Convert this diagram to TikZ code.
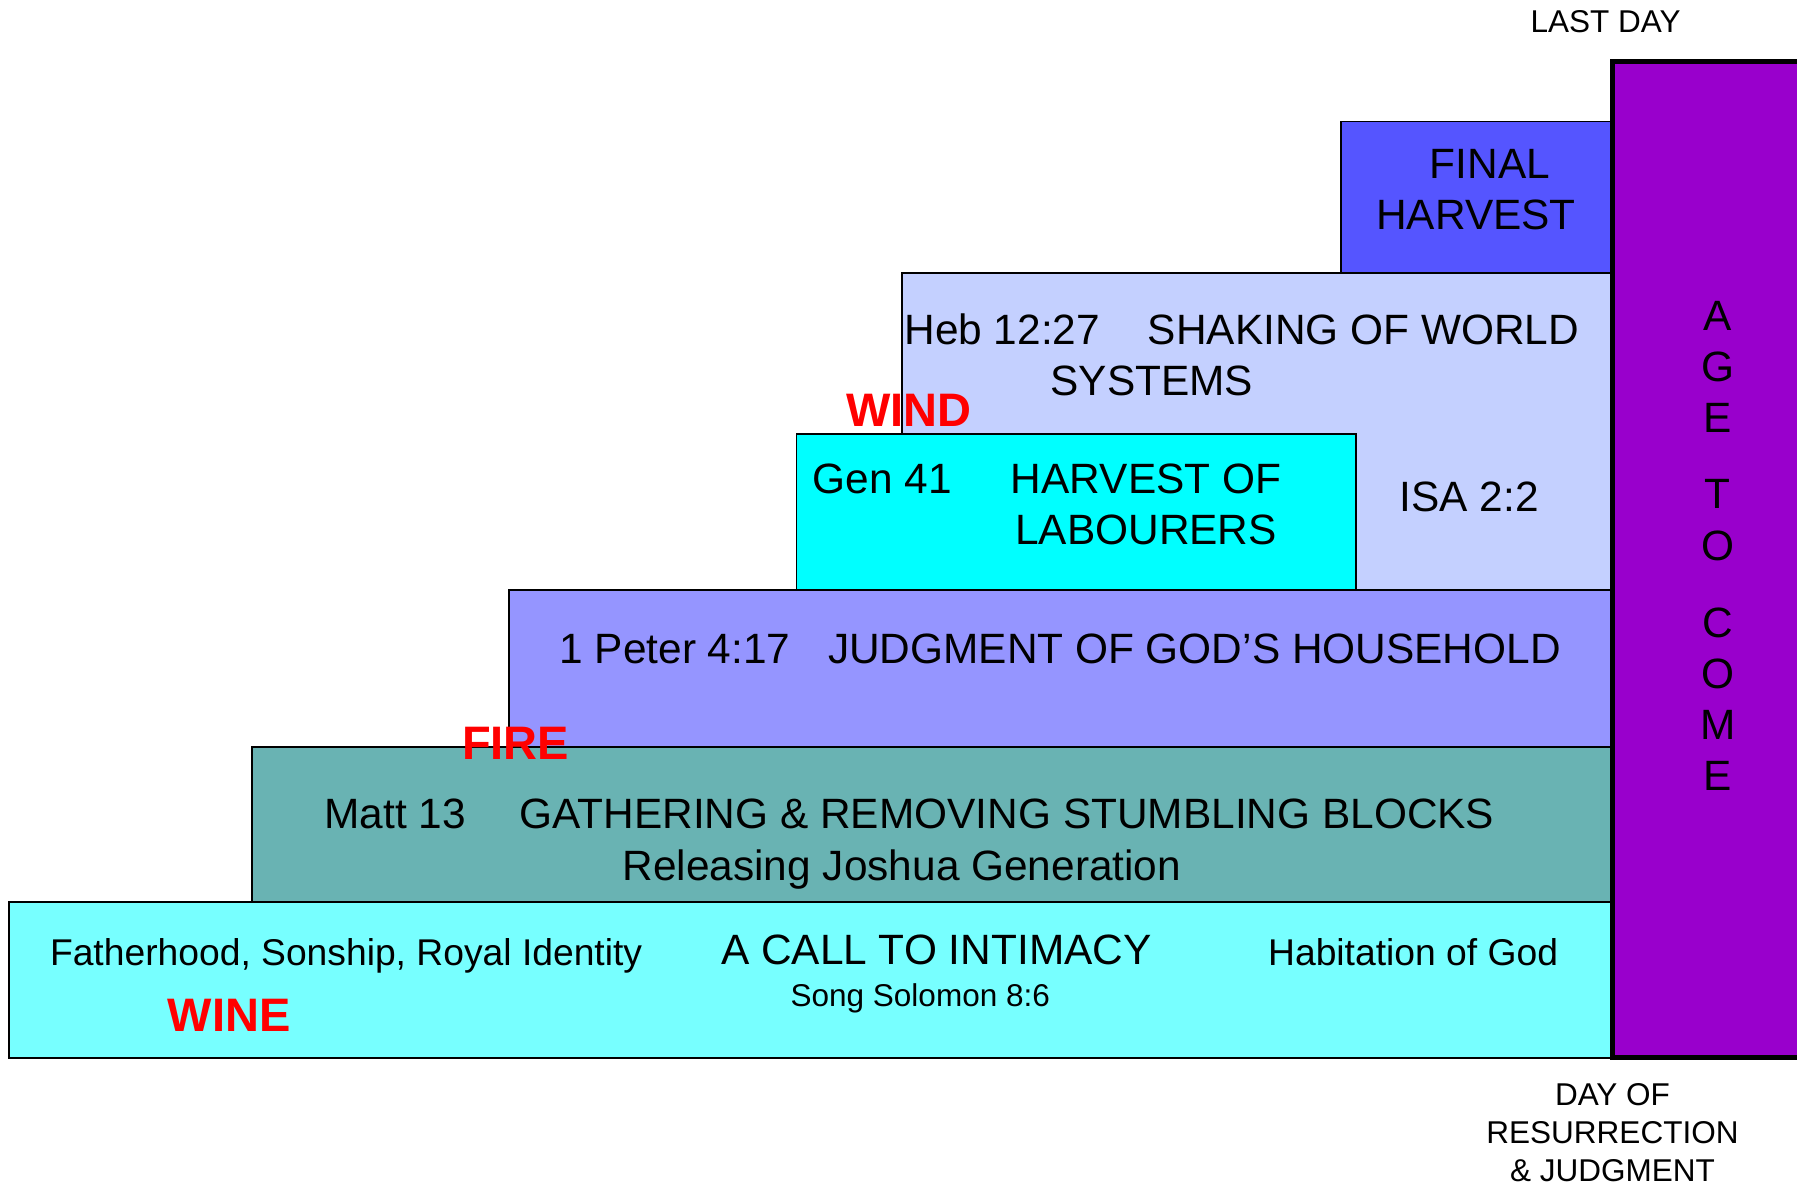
\documentclass[tikz,border=0pt]{standalone}
\usepackage{fontspec}
\setmainfont{Liberation Sans}
\definecolor{agepurple}{HTML}{9900CC}
\definecolor{finalblue}{HTML}{5555FF}
\definecolor{shakeblue}{HTML}{C4D0FF}
\definecolor{gencyan}{HTML}{00FFFF}
\definecolor{peterblue}{HTML}{9595FF}
\definecolor{matteal}{HTML}{69B3B3}
\definecolor{winecyan}{HTML}{77FFFF}
\definecolor{redword}{HTML}{FF0000}
\tikzset{
  stepbox/.style={draw=black, line width=1.6pt, anchor=north west, inner sep=0pt, outer sep=0pt},
  bigtxt/.style={inner sep=0pt, font=\fontsize{37pt}{44pt}\selectfont},
  midtxt/.style={inner sep=0pt, font=\fontsize{32.5pt}{39pt}\selectfont},
  smalltxt/.style={inner sep=0pt, font=\fontsize{27.5pt}{33pt}\selectfont},
  redtxt/.style={inner sep=0pt, text=redword, font=\fontsize{41pt}{48pt}\selectfont\bfseries},
}
\begin{document}
\begin{tikzpicture}[x=1pt, y=-1pt]
\clip (0,0) rectangle (1568,1035);
\fill[white] (0,0) rectangle (1568,1035);
% boxes
\node[stepbox, fill=finalblue, minimum width=237pt, minimum height=132pt] (final) at (1170,106) {};
\node[stepbox, fill=shakeblue, minimum width=620pt, minimum height=277pt] (shake) at (787,238) {};
\node[stepbox, fill=gencyan, minimum width=488pt, minimum height=136pt] (gen) at (695,379) {};
\node[stepbox, fill=peterblue, minimum width=963pt, minimum height=137pt] (peter) at (444,515) {};
\node[stepbox, fill=matteal, minimum width=1187pt, minimum height=135pt] (matt) at (220,652) {};
\node[stepbox, fill=winecyan, minimum width=1399pt, minimum height=136pt] (wine) at (8,787) {};
\node[draw=black, line width=4.5pt, fill=agepurple, anchor=north west, inner sep=0pt, outer sep=0pt, minimum width=200pt, minimum height=869pt] (age) at (1407,54) {};
% labels top
\node[smalltxt, anchor=base] (lastday) at (1401,28) {LAST DAY};
\node[bigtxt, anchor=base] (finalA) at (1300,156) {FINAL};
\node[bigtxt, anchor=base] (finalB) at (1288,200) {HARVEST};
% shaking
\node[bigtxt, anchor=base west] (heb) at (789,301) {Heb 12:27};
\node[bigtxt, anchor=base east] (shakeA) at (1378,301) {SHAKING OF WORLD};
\node[bigtxt, anchor=base] (shakeB) at (1005,345) {SYSTEMS};
\node[bigtxt, anchor=base] (isa) at (1282,446) {ISA 2:2};
\node[redtxt, anchor=base] (wind) at (793,372) {WIND};
% gen 41
\node[bigtxt, anchor=base west] (gen41) at (709,431) {Gen 41};
\node[bigtxt, anchor=base] (genA) at (1000,431) {HARVEST OF};
\node[bigtxt, anchor=base] (genB) at (1000,475) {LABOURERS};
% peter
\node[bigtxt, anchor=base west] (pet) at (488,579) {1 Peter 4:17};
\node[bigtxt, anchor=base east] (petA) at (1362,579) {JUDGMENT OF GOD’S HOUSEHOLD};
\node[redtxt, anchor=base] (fire) at (450,663) {FIRE};
% matt
\node[bigtxt, anchor=base west] (mt) at (283,723) {Matt 13};
\node[bigtxt, anchor=base east] (mtA) at (1304,723) {GATHERING \& REMOVING STUMBLING BLOCKS};
\node[bigtxt, anchor=base] (mtB) at (787,768) {Releasing Joshua Generation};
% wine
\node[midtxt, anchor=base] (fath) at (302,842.5) {Fatherhood, Sonship, Royal Identity};
\node[redtxt, anchor=base] (winew) at (200,900) {WINE};
\node[bigtxt, anchor=base] (call) at (817,842) {A CALL TO INTIMACY};
\node[smalltxt, anchor=base] (song) at (803,878) {Song Solomon 8:6};
\node[midtxt, anchor=base] (habit) at (1233,842.5) {Habitation of God};
% age to come
\foreach \ch/\yy [count=\i] in {A/288, G/333, E/377, T/444, O/489, C/556, O/601, M/645, E/690}
  \node[bigtxt, anchor=base] (age\i) at (1499,\yy) {\ch};
% bottom
\node[smalltxt, anchor=base] (dayA) at (1407,965) {DAY OF};
\node[smalltxt, anchor=base] (dayB) at (1407,998) {RESURRECTION};
\node[smalltxt, anchor=base] (dayC) at (1407,1031) {\& JUDGMENT};
\end{tikzpicture}
\end{document}
